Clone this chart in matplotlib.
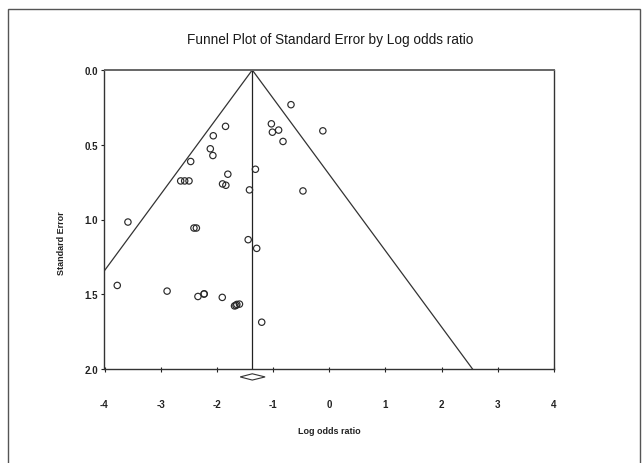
import matplotlib
matplotlib.use("Agg")
import matplotlib.pyplot as plt
from matplotlib.patches import Rectangle, Polygon
import numpy as np

# Data
log_odds = [-1.846, -2.064, -2.117, -2.071, -2.466, -1.805, -1.314,
            -0.681, -1.030, -1.012, -0.901, -0.823, -0.114,
            -2.644, -2.573, -2.496, -1.899, -1.840, -1.420, -0.468,
            -3.583, -2.408, -2.365, -1.443, -1.291,
            -3.773, -2.886, -2.337, -2.230, -2.225, -1.904,
            -1.686, -1.660, -1.645, -1.598, -1.202]
std_err = [0.377, 0.440, 0.527, 0.572, 0.612, 0.697, 0.664,
           0.232, 0.360, 0.416, 0.402, 0.478, 0.407,
           0.742, 0.742, 0.742, 0.762, 0.771, 0.802, 0.809,
           1.017, 1.057, 1.057, 1.135, 1.193,
           1.441, 1.479, 1.515, 1.499, 1.497, 1.521,
           1.578, 1.575, 1.568, 1.566, 1.687]
pooled = -1.37
ci_low, ci_high = -1.585, -1.142
x_ticks = [-4, -3, -2, -1, 0, 1, 2, 3, 4]
y_ticks = [0.0, 0.5, 1.0, 1.5, 2.0]
title = "Funnel Plot of Standard Error by Log odds ratio"
xlabel = "Log odds ratio"
ylabel = "Standard Error"

plt.rcParams['font.family'] = ['Liberation Sans', 'DejaVu Sans']

W, H = 644, 464
fig = plt.figure(figsize=(W / 100, H / 100), dpi=100)
fig.patch.set_facecolor('white')

# outer border
fig.patches.append(Rectangle((7.5 / W, -0.05), (639.5 - 7.5) / W, 1 - 10 / H + 0.05,
                             transform=fig.transFigure, fill=False,
                             edgecolor='#555555', linewidth=1.0))

ax = fig.add_axes([104.5 / W, 1 - 370 / H, (554 - 104.5) / W, (370 - 71) / H])
ax.set_xlim(-4, 4)
ax.set_ylim(2.0, 0.0)

# funnel
se_line = np.array([0.0, 2.0])
ax.plot(pooled - 1.96 * se_line, se_line, color='#333333', lw=0.9)
ax.plot(pooled + 1.96 * se_line, se_line, color='#333333', lw=0.9)
ax.plot([pooled, pooled], se_line, color='#222222', lw=0.9)

ax.scatter(log_odds, std_err, s=21, facecolors='none', edgecolors='#2a2a2a',
           linewidths=0.85, zorder=3)

# diamond for pooled estimate (below axis)
yc, hh = 2.053, 0.021
dia = Polygon([[ci_low, yc], [pooled, yc - hh], [ci_high, yc], [pooled, yc + hh]],
              closed=True, fill=False, edgecolor='#333333', lw=0.8, clip_on=False)
ax.add_patch(dia)

ax.set_xticks(x_ticks)
ax.set_xticklabels([f"{t:d}" for t in x_ticks])
ax.set_yticks(y_ticks)
ax.set_yticklabels([f"{t:.1f}" for t in y_ticks])
ax.tick_params(axis='x', direction='inout', length=3.6, width=0.8, pad=20,
               labelsize=7, colors='#222222')
ax.tick_params(axis='y', direction='out', length=2.5, width=0.8, pad=2,
               labelsize=7, colors='#222222')
for lab in ax.get_xticklabels() + ax.get_yticklabels():
    lab.set_fontweight('bold')

for s in ax.spines.values():
    s.set_color('#333333')
    s.set_linewidth(1.0)
ax.spines['top'].set_color('#666666')
ax.spines['top'].set_linewidth(1.4)

fig.text(330 / W, 1 - 40 / H, title, ha='center', va='center', fontsize=9.8,
         color='#1a1a1a')
fig.text(329 / W, 1 - 432 / H, xlabel, ha='center', va='center', fontsize=6.5,
         fontweight='bold', color='#222222')
fig.text(61.5 / W, 1 - 243 / H, ylabel, ha='center', va='center', fontsize=6.5,
         fontweight='bold', rotation=90, color='#222222')

fig.savefig('out.png', dpi=100)
